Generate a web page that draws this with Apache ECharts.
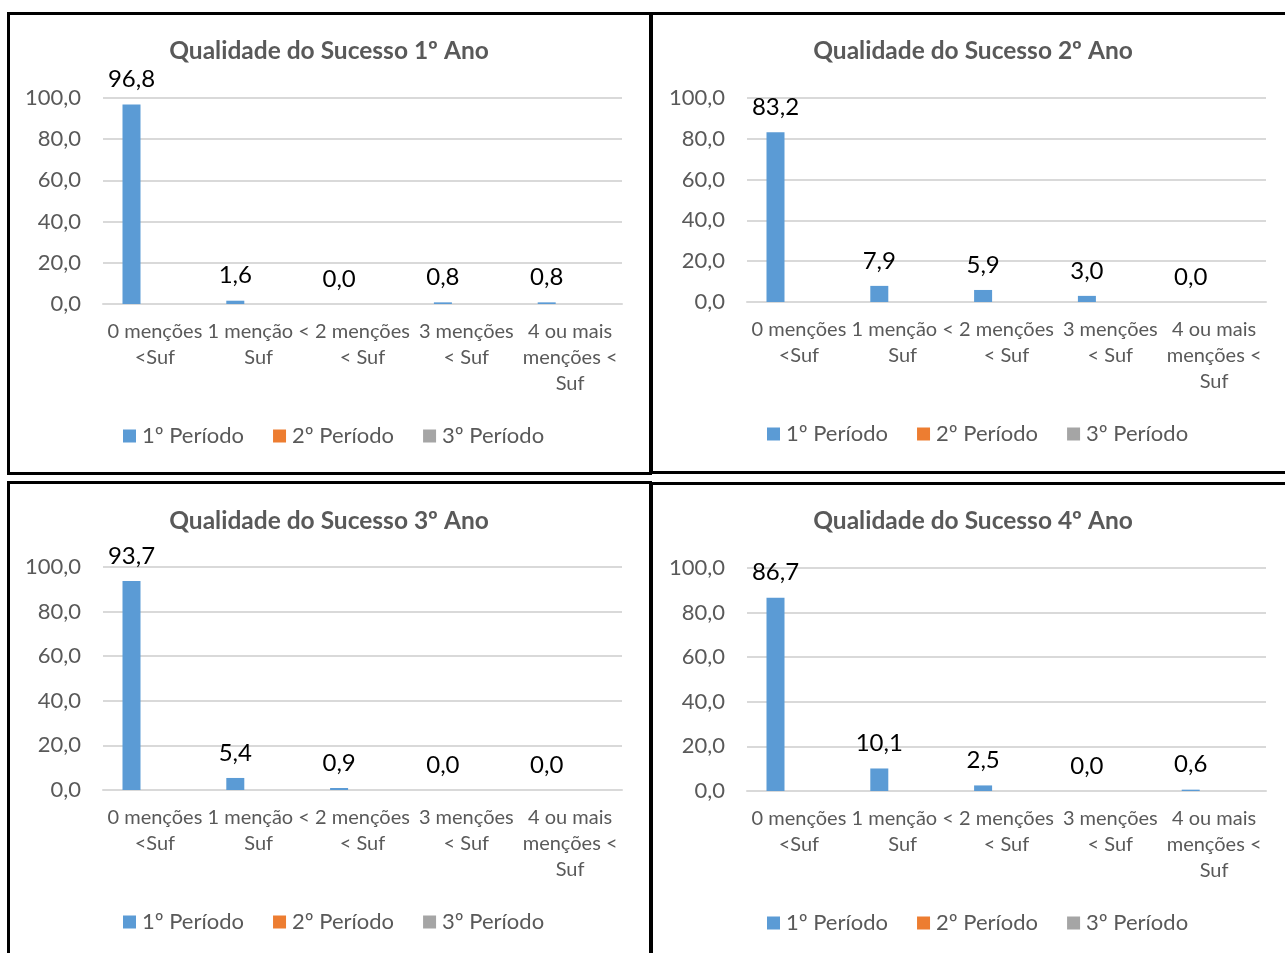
<!DOCTYPE html>
<html>
<head>
    <meta charset="utf-8">
    <title>Qualidade do Sucesso</title>
    <script src="https://cdn.jsdelivr.net/npm/echarts@6/dist/echarts.min.js"></script>
    <style>
        html, body { margin: 0; padding: 0; background: #fff; overflow: hidden; }
        #main { position: absolute; left: 0; top: 0; width: 1285px; height: 953px; }
        .box { position: absolute; border: 3px solid #000; box-sizing: border-box; pointer-events: none; }
    </style>
</head>
<body>
    <div id="main"></div>
    <div class="box" style="left:7px;top:12px;width:645px;height:463px;"></div>
    <div class="box" style="left:650px;top:12px;width:650px;height:462px;"></div>
    <div class="box" style="left:7px;top:481px;width:645px;height:490px;"></div>
    <div class="box" style="left:650px;top:482px;width:650px;height:490px;"></div>
    <script type="text/javascript">
        var categorias = ['0 menções\n<Suf', '1 menção <\nSuf', '2 menções\n< Suf', '3 menções\n< Suf', '4 ou mais\nmenções <\nSuf']
        var periodos = ['1º Período', '2º Período', '3º Período']
        var titulos = ['Qualidade do Sucesso 1º Ano', 'Qualidade do Sucesso 2º Ano', 'Qualidade do Sucesso 3º Ano', 'Qualidade do Sucesso 4º Ano']
        var yTicks = [0, 20, 40, 60, 80, 100]

        var ano1 = [[96.8, 1.6, 0.0, 0.8, 0.8], [0, 0, 0, 0, 0], [0, 0, 0, 0, 0]]
        var ano2 = [[83.2, 7.9, 5.9, 3.0, 0.0], [0, 0, 0, 0, 0], [0, 0, 0, 0, 0]]
        var ano3 = [[93.7, 5.4, 0.9, 0.0, 0.0], [0, 0, 0, 0, 0], [0, 0, 0, 0, 0]]
        var ano4 = [[86.7, 10.1, 2.5, 0.0, 0.6], [0, 0, 0, 0, 0], [0, 0, 0, 0, 0]]
        var anos = [ano1, ano2, ano3, ano4]

        var cores = ['#5B9BD5', '#ED7D31', '#A5A5A5']
        var fonte = 'Lato, "Open Sans", sans-serif'

        // posição de cada painel (grelha, título, legenda)
        var paineis = [
            { gx: 103, gy: 98, gh: 206, tx: 324, ty: 34, lx: 118, ly: 420 },
            { gx: 747, gy: 98, gh: 204, tx: 968, ty: 34, lx: 762, ly: 418 },
            { gx: 103, gy: 567, gh: 223, tx: 324, ty: 504, lx: 118, ly: 906 },
            { gx: 747, gy: 568, gh: 223, tx: 968, ty: 504, lx: 762, ly: 907 }
        ]

        function virgula(v) { return Number(v).toFixed(1).replace('.', ',') }

        var option = {
            animation: false,
            color: cores,
            textStyle: { fontFamily: fonte },
            title: [], legend: [], grid: [], xAxis: [], yAxis: [], series: []
        }

        paineis.forEach(function (p, i) {
            option.title.push({
                text: titulos[i], left: p.tx, top: p.ty, textAlign: 'center',
                textStyle: { fontFamily: fonte, fontSize: 24.5, fontWeight: 'bold', color: '#595959' }
            })
            option.legend.push({
                data: periodos, left: p.lx, top: p.ly, itemWidth: 13, itemHeight: 13, itemGap: 29,
                icon: 'rect', selectedMode: false,
                textStyle: { fontFamily: fonte, fontSize: 22, color: '#595959', padding: [0, 0, 0, 1] }
            })
            option.grid.push({ left: p.gx, top: p.gy, width: 519, height: p.gh })
            option.xAxis.push({
                type: 'category', gridIndex: i, data: categorias,
                axisTick: { show: false },
                axisLine: { lineStyle: { color: '#D9D9D9', width: 2 } },
                axisLabel: { interval: 0, margin: 15, fontFamily: fonte, fontSize: 20, color: '#595959', lineHeight: 26 }
            })
            option.yAxis.push({
                type: 'value', gridIndex: i, min: yTicks[0], max: yTicks[yTicks.length - 1], interval: 20,
                axisLine: { show: false }, axisTick: { show: false },
                splitLine: { lineStyle: { color: '#D9D9D9', width: 2 } },
                axisLabel: { margin: 22, fontFamily: fonte, fontSize: 22, color: '#595959', formatter: virgula }
            })
            periodos.forEach(function (nome, k) {
                option.series.push({
                    name: nome, type: 'bar', xAxisIndex: i, yAxisIndex: i,
                    data: anos[i][k], barWidth: 18, barGap: '30%',
                    label: {
                        show: k === 0, position: 'top', distance: 13,
                        fontFamily: fonte, fontSize: 24, color: '#000', formatter: function (d) { return virgula(d.value) }
                    }
                })
            })
        })

        var myChart = echarts.init(document.getElementById('main'))
        myChart.setOption(option)
    </script>
</body>
</html>
